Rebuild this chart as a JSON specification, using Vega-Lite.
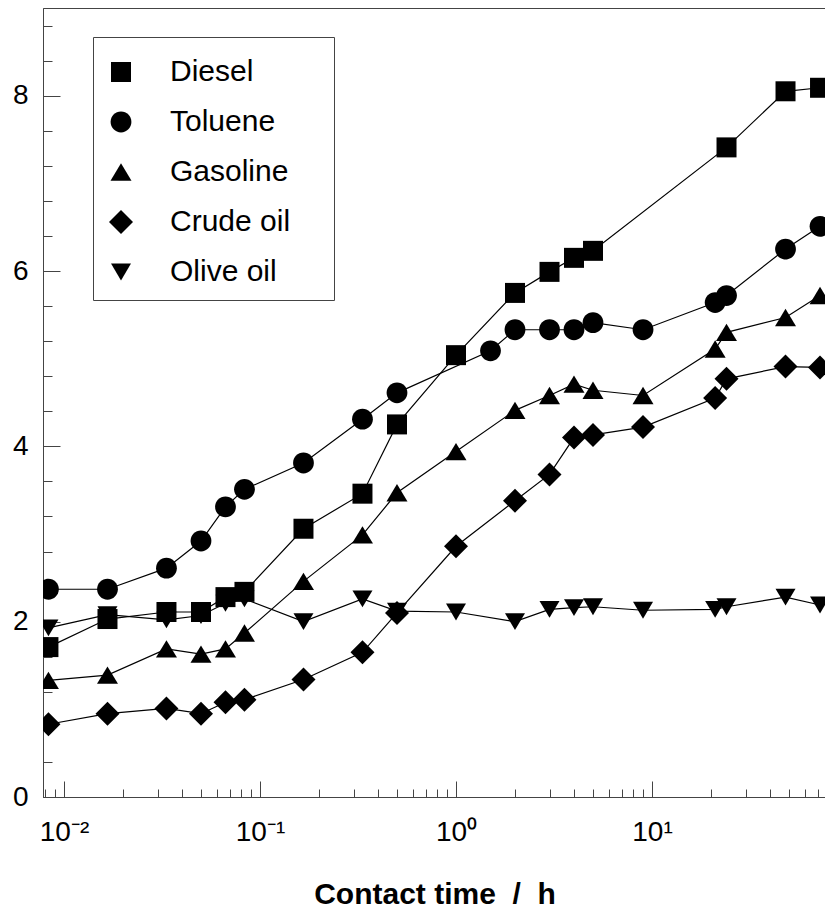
{
  "$schema": "https://vega.github.io/schema/vega-lite/v6.json",
  "width": 783,
  "height": 789,
  "autosize": {"type": "none"},
  "padding": {"left": 43, "top": 8, "right": 0, "bottom": 116},
  "background": "white",
  "config": {
    "view": {"stroke": "#444", "strokeWidth": 1},
    "font": "Liberation Sans",
    "axis": {
      "grid": false,
      "domainColor": "#444",
      "tickColor": "#444",
      "labelColor": "black",
      "labelFont": "Liberation Sans",
      "titleFont": "Liberation Sans",
      "titleColor": "black",
      "tickWidth": 1,
      "domainWidth": 1,
      "labelOverlap": false,
      "labelFlush": false
    },
    "legend": {
      "orient": "none",
      "legendX": 50,
      "legendY": 29,
      "strokeColor": "#444",
      "strokeWidth": 1,
      "padding": 13,
      "labelFont": "Liberation Sans",
      "labelFontSize": 30,
      "labelColor": "black",
      "labelOffset": 34,
      "labelLimit": 400,
      "rowPadding": 20,
      "titleFontSize": 5,
      "titlePadding": 2,
      "symbolSize": 400,
      "symbolStrokeWidth": 0,
      "symbolFillColor": "black"
    }
  },
  "data": {
    "values": [
      {"series": "Diesel", "t": 0.00833, "v": 1.71},
      {"series": "Diesel", "t": 0.01667, "v": 2.03},
      {"series": "Diesel", "t": 0.03333, "v": 2.11},
      {"series": "Diesel", "t": 0.05, "v": 2.11},
      {"series": "Diesel", "t": 0.06667, "v": 2.28},
      {"series": "Diesel", "t": 0.08333, "v": 2.34},
      {"series": "Diesel", "t": 0.16667, "v": 3.06},
      {"series": "Diesel", "t": 0.33333, "v": 3.46},
      {"series": "Diesel", "t": 0.5, "v": 4.25},
      {"series": "Diesel", "t": 1, "v": 5.04},
      {"series": "Diesel", "t": 2, "v": 5.75},
      {"series": "Diesel", "t": 3, "v": 5.99},
      {"series": "Diesel", "t": 4, "v": 6.15},
      {"series": "Diesel", "t": 5, "v": 6.23},
      {"series": "Diesel", "t": 24, "v": 7.41},
      {"series": "Diesel", "t": 48, "v": 8.05},
      {"series": "Diesel", "t": 72, "v": 8.09},

      {"series": "Toluene", "t": 0.00833, "v": 2.37},
      {"series": "Toluene", "t": 0.01667, "v": 2.37},
      {"series": "Toluene", "t": 0.03333, "v": 2.61},
      {"series": "Toluene", "t": 0.05, "v": 2.92},
      {"series": "Toluene", "t": 0.06667, "v": 3.31},
      {"series": "Toluene", "t": 0.08333, "v": 3.51},
      {"series": "Toluene", "t": 0.16667, "v": 3.81},
      {"series": "Toluene", "t": 0.33333, "v": 4.31},
      {"series": "Toluene", "t": 0.5, "v": 4.61},
      {"series": "Toluene", "t": 1.5, "v": 5.09},
      {"series": "Toluene", "t": 2, "v": 5.33},
      {"series": "Toluene", "t": 3, "v": 5.33},
      {"series": "Toluene", "t": 4, "v": 5.33},
      {"series": "Toluene", "t": 5, "v": 5.41},
      {"series": "Toluene", "t": 9, "v": 5.33},
      {"series": "Toluene", "t": 21, "v": 5.64},
      {"series": "Toluene", "t": 24, "v": 5.72},
      {"series": "Toluene", "t": 48, "v": 6.25},
      {"series": "Toluene", "t": 72, "v": 6.51},

      {"series": "Gasoline", "t": 0.00833, "v": 1.33},
      {"series": "Gasoline", "t": 0.01667, "v": 1.39},
      {"series": "Gasoline", "t": 0.03333, "v": 1.69},
      {"series": "Gasoline", "t": 0.05, "v": 1.63},
      {"series": "Gasoline", "t": 0.06667, "v": 1.69},
      {"series": "Gasoline", "t": 0.08333, "v": 1.87},
      {"series": "Gasoline", "t": 0.16667, "v": 2.46},
      {"series": "Gasoline", "t": 0.33333, "v": 2.99},
      {"series": "Gasoline", "t": 0.5, "v": 3.47},
      {"series": "Gasoline", "t": 1, "v": 3.94},
      {"series": "Gasoline", "t": 2, "v": 4.41},
      {"series": "Gasoline", "t": 3, "v": 4.58},
      {"series": "Gasoline", "t": 4, "v": 4.71},
      {"series": "Gasoline", "t": 5, "v": 4.64},
      {"series": "Gasoline", "t": 9, "v": 4.58},
      {"series": "Gasoline", "t": 21, "v": 5.11},
      {"series": "Gasoline", "t": 24, "v": 5.30},
      {"series": "Gasoline", "t": 48, "v": 5.47},
      {"series": "Gasoline", "t": 72, "v": 5.72},

      {"series": "Crude oil", "t": 0.00833, "v": 0.83},
      {"series": "Crude oil", "t": 0.01667, "v": 0.95},
      {"series": "Crude oil", "t": 0.03333, "v": 1.01},
      {"series": "Crude oil", "t": 0.05, "v": 0.95},
      {"series": "Crude oil", "t": 0.06667, "v": 1.08},
      {"series": "Crude oil", "t": 0.08333, "v": 1.11},
      {"series": "Crude oil", "t": 0.16667, "v": 1.34},
      {"series": "Crude oil", "t": 0.33333, "v": 1.65},
      {"series": "Crude oil", "t": 0.5, "v": 2.10},
      {"series": "Crude oil", "t": 1, "v": 2.86},
      {"series": "Crude oil", "t": 2, "v": 3.38},
      {"series": "Crude oil", "t": 3, "v": 3.68},
      {"series": "Crude oil", "t": 4, "v": 4.10},
      {"series": "Crude oil", "t": 5, "v": 4.13},
      {"series": "Crude oil", "t": 9, "v": 4.22},
      {"series": "Crude oil", "t": 21, "v": 4.55},
      {"series": "Crude oil", "t": 24, "v": 4.77},
      {"series": "Crude oil", "t": 48, "v": 4.91},
      {"series": "Crude oil", "t": 72, "v": 4.90},

      {"series": "Olive oil", "t": 0.00833, "v": 1.93},
      {"series": "Olive oil", "t": 0.01667, "v": 2.08},
      {"series": "Olive oil", "t": 0.03333, "v": 2.02},
      {"series": "Olive oil", "t": 0.05, "v": 2.07},
      {"series": "Olive oil", "t": 0.06667, "v": 2.21},
      {"series": "Olive oil", "t": 0.08333, "v": 2.26},
      {"series": "Olive oil", "t": 0.16667, "v": 2.00},
      {"series": "Olive oil", "t": 0.33333, "v": 2.26},
      {"series": "Olive oil", "t": 0.5, "v": 2.12},
      {"series": "Olive oil", "t": 1, "v": 2.11},
      {"series": "Olive oil", "t": 2, "v": 2.00},
      {"series": "Olive oil", "t": 3, "v": 2.14},
      {"series": "Olive oil", "t": 4, "v": 2.16},
      {"series": "Olive oil", "t": 5, "v": 2.17},
      {"series": "Olive oil", "t": 9, "v": 2.13},
      {"series": "Olive oil", "t": 21, "v": 2.14},
      {"series": "Olive oil", "t": 24, "v": 2.17},
      {"series": "Olive oil", "t": 48, "v": 2.28},
      {"series": "Olive oil", "t": 72, "v": 2.19}
    ]
  },
  "encoding": {
    "x": {
      "field": "t",
      "type": "quantitative",
      "scale": {"type": "log", "domain": [0.007815, 77.23], "nice": false},
      "axis": {
        "values": [0.008, 0.009, 0.01, 0.02, 0.03, 0.04, 0.05, 0.06, 0.07, 0.08, 0.09, 0.1, 0.2, 0.3, 0.4, 0.5, 0.6, 0.7, 0.8, 0.9, 1, 2, 3, 4, 5, 6, 7, 8, 9, 10, 20, 30, 40, 50, 60, 70],
        "title": "Contact time\u00a0 /\u00a0 h",
        "titleFontSize": 30,
        "titleFontWeight": "bold",
        "titlePadding": 25,
        "labelFontSize": 28,
        "labelPadding": 37,
        "labelExpr": "datum.value == 0.01 ? '10⁻²' : datum.value == 0.1 ? '10⁻¹' : datum.value == 1 ? '10⁰' : datum.value == 10 ? '10¹' : ''",
        "tickSize": {"condition": {"test": "indexof([0.01, 0.1, 1, 10], datum.value) >= 0", "value": -16}, "value": -8}
      }
    },
    "y": {
      "field": "v",
      "type": "quantitative",
      "scale": {"domain": [0, 9], "nice": false, "zero": false},
      "axis": {
        "values": [0, 0.4, 0.8, 1.2, 1.6, 2, 2.4, 2.8, 3.2, 3.6, 4, 4.4, 4.8, 5.2, 5.6, 6, 6.4, 6.8, 7.2, 7.6, 8, 8.4, 8.8],
        "title": null,
        "labelFontSize": 28,
        "labelPadding": 32,
        "labelExpr": "datum.value % 2 == 0 ? '' + datum.value : ''",
        "tickSize": {"condition": {"test": "datum.value % 2 == 0", "value": -17}, "value": -9}
      }
    }
  },
  "layer": [
    {
      "mark": {"type": "line", "color": "black", "strokeWidth": 1.2, "clip": true},
      "encoding": {"detail": {"field": "series", "type": "nominal"}}
    },
    {
      "mark": {"type": "point", "filled": true, "color": "black", "opacity": 1, "strokeWidth": 0, "size": 400, "clip": true},
      "encoding": {
        "shape": {
          "field": "series",
          "type": "nominal",
          "title": " ",
          "scale": {
            "domain": ["Diesel", "Toluene", "Gasoline", "Crude oil", "Olive oil"],
            "range": [
              "square",
              "M1.04,0A1.04,1.04,0,1,1,-1.04,0A1.04,1.04,0,1,1,1.04,0Z",
              "M0,-0.87L1.05,0.87L-1.05,0.87Z",
              "M0,-1.2L1.2,0L0,1.2L-1.2,0Z",
              "M-1,-0.84L1,-0.84L0,0.84Z"
            ]
          },
          "legend": {"labelExpr": "datum.label + '\u2002\u2002\u200b'"}
        }
      }
    }
  ]
}
